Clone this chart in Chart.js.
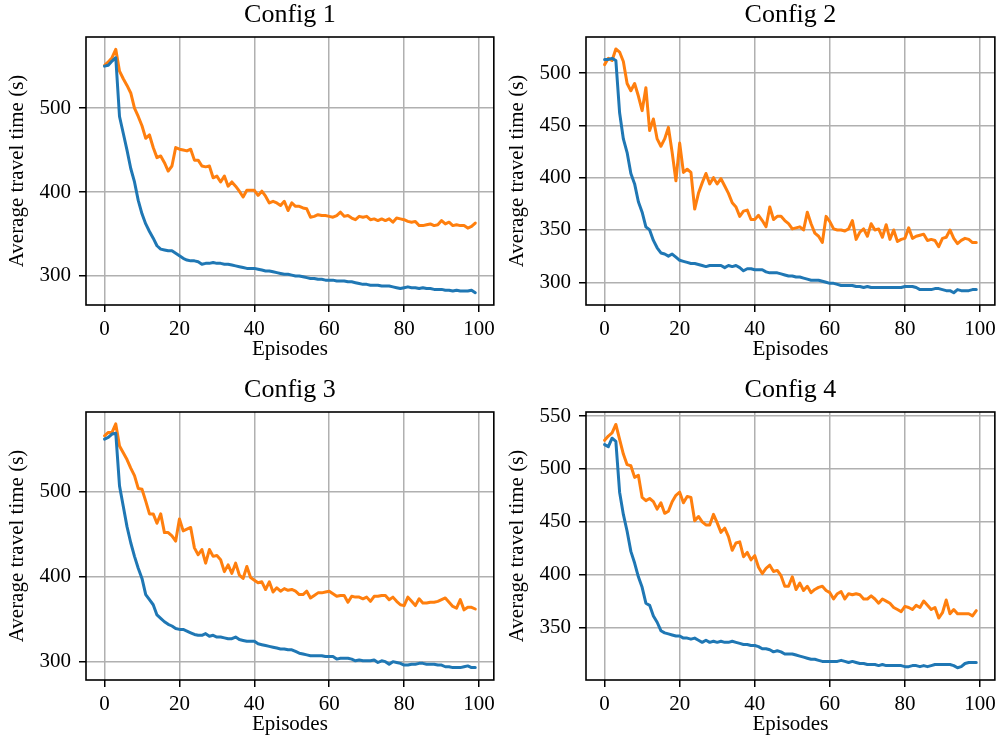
<!DOCTYPE html>
<html>
<head>
<meta charset="utf-8">
<script src="https://cdn.jsdelivr.net/npm/chart.js@4.4.1/dist/chart.umd.min.js"></script>
<style>
html,body{margin:0;padding:0;background:#fff;overflow:hidden;}
#wrap{position:relative;width:1001px;height:740px;overflow:hidden;background:#fff;}
canvas{position:absolute;display:block;}
</style>
</head>
<body>
<div id="wrap">
<canvas id="c1" width="500" height="370" style="left:0;top:0;width:500px;height:370px"></canvas>
<canvas id="c2" width="501" height="370" style="left:500px;top:0;width:501px;height:370px"></canvas>
<canvas id="c3" width="500" height="365" style="left:0;top:375px;width:500px;height:365px"></canvas>
<canvas id="c4" width="501" height="365" style="left:500px;top:375px;width:501px;height:365px"></canvas>
</div>
<script>
// ---- data ----
const episodes = Array.from({length: 100}, (_, i) => i);
const xTicks = [0, 20, 40, 60, 80, 100];

const titles = ["Config 1", "Config 2", "Config 3", "Config 4"];
const xLabel = "Episodes";
const yLabel = "Average travel time (s)";

const config1Blue = [550,551,556,560,490,470,450,428,412,390,
374,362,353,345,336,332,331,330,330,327,
324,321,319,318,318,317,314,315,315,316,
315,315,314,314,313,312,311,310,309,309,
309,308,307,306,306,305,304,303,302,302,
301,300,300,299,298,297,297,296,296,295,
295,295,294,294,294,293,293,292,291,290,
290,289,289,289,288,288,288,287,286,285,
286,287,286,286,285,286,285,285,284,284,
284,283,283,282,283,282,282,282,283,280];
const config1Orange = [551,555,560,570,544,535,527,518,500,490,
479,464,468,453,441,443,435,425,431,453,
451,450,449,451,438,438,431,430,431,417,
419,412,419,407,412,407,401,394,402,402,
402,396,401,395,387,389,387,384,389,378,
387,383,383,381,380,370,371,373,372,372,
371,370,372,376,371,372,369,367,371,370,
371,367,368,366,368,366,368,364,369,368,
367,365,364,365,360,360,361,362,360,361,
366,362,364,360,361,360,360,357,359,363];

const config2Blue = [513,513,514,512,462,437,424,404,394,377,
367,353,350,340,333,328,327,325,327,324,
321,320,319,318,318,317,316,315,316,316,
316,316,314,316,315,316,314,311,313,313,
312,312,312,310,309,309,309,308,307,306,
306,305,305,304,303,302,302,302,301,300,
299,299,298,297,297,297,297,296,296,295,
296,295,295,295,295,295,295,295,295,295,
296,296,296,295,293,293,293,293,294,294,
293,292,292,290,293,292,292,292,293,293];
const config2Orange = [508,514,512,523,520,511,490,483,490,478,
464,486,445,456,437,430,437,448,424,397,
433,405,408,405,370,385,395,404,394,400,
394,399,392,385,376,372,363,368,369,360,
360,364,359,353,372,360,363,363,359,356,
351,352,353,350,367,356,347,344,338,363,
358,351,350,350,349,351,359,341,348,351,
344,356,350,351,343,355,341,350,339,341,
342,352,342,344,345,346,340,341,340,334,
342,343,350,342,337,340,342,341,338,338];

const config3Blue = [562,564,568,569,507,483,459,440,424,410,
398,379,373,367,355,351,347,344,342,339,
338,338,336,334,332,331,331,333,330,331,
329,329,328,327,327,329,326,325,324,324,
324,321,320,319,318,317,316,315,315,314,
314,312,310,309,308,307,307,307,307,306,
306,306,303,304,304,304,303,301,302,301,
301,301,302,299,301,300,297,300,299,298,
296,296,297,297,298,298,297,297,297,296,
296,294,294,293,293,293,294,295,293,293];
const config3Orange = [566,570,570,580,554,546,538,528,519,504,
503,489,474,474,463,474,452,452,448,442,
468,454,456,458,434,426,432,416,432,424,
425,420,406,414,404,416,402,398,412,399,
396,393,394,385,394,382,387,383,386,384,
385,383,379,379,383,375,378,381,381,382,
383,380,377,378,378,370,377,376,376,374,
376,371,377,377,378,378,373,376,371,367,
366,376,371,366,374,369,369,370,370,371,
373,375,370,365,363,373,361,364,364,362];

const config4Blue = [523,521,529,526,478,457,441,422,411,398,
388,373,371,361,355,347,345,344,343,342,
342,340,340,339,340,338,336,338,336,337,
336,337,336,336,337,336,335,334,334,333,
333,332,330,330,329,327,328,327,325,325,
325,324,323,322,321,320,320,319,318,318,
318,318,318,319,318,317,318,317,316,316,
315,315,315,314,315,314,314,314,314,314,
313,313,314,314,313,314,313,314,315,315,
315,315,315,314,312,313,316,317,317,317];
const config4Orange = [527,531,534,542,528,514,504,503,492,494,
473,470,472,469,462,468,458,460,469,475,
478,468,474,473,451,455,450,447,447,457,
449,440,444,436,423,430,431,417,421,414,
418,407,401,406,409,403,404,399,389,389,
398,386,392,385,389,383,386,388,389,385,
383,377,382,384,377,382,381,382,381,377,
377,380,377,373,377,375,373,369,367,365,
370,369,367,371,369,375,371,367,369,359,
364,376,363,367,363,363,363,363,361,366];

const yTicks1 = [300, 400, 500];
const yTicks2 = [300, 350, 400, 450, 500];
const yTicks3 = [300, 400, 500];
const yTicks4 = [350, 400, 450, 500, 550];

const yRange1 = [265.4, 584.7];
const yRange2 = [278.3, 534.4];
const yRange3 = [278.4, 594.0];
const yRange4 = [300.4, 553.8];

// ---- styling / chart construction ----
const FONT = "'Liberation Serif', 'Times New Roman', 'DejaVu Serif', serif";
Chart.defaults.font.family = FONT;
Chart.defaults.color = '#000';

const framePlugin = {
  id: 'frame',
  afterDatasetsDraw(chart) {
    const a = chart.chartArea, ctx = chart.ctx;
    ctx.save();
    ctx.strokeStyle = '#000';
    ctx.lineWidth = 1.6;
    ctx.strokeRect(a.left, a.top, a.right - a.left, a.bottom - a.top);
    ctx.restore();
  }
};

function pts(vals) { return episodes.map((e, i) => ({x: e, y: vals[i]})); }

function makeChart(id, title, blue, orange, yRange, yTicks, canvasW, canvasH) {
  const plotBottom = 305;
  const xAxisH = canvasH - plotBottom;
  const labelCenter = 349;
  const xTitlePad = (canvasH - labelCenter) - 12.6;
  const gridOpts = {color: '#b0b0b0', lineWidth: 1.5, tickLength: 7, tickColor: '#000', tickWidth: 1.5, drawTicks: true};
  return new Chart(document.getElementById(id), {
    type: 'line',
    data: {
      datasets: [
        {data: pts(blue), borderColor: '#1f77b4', borderWidth: 3, pointRadius: 0, tension: 0, fill: false, borderJoinStyle: 'round', borderCapStyle: 'round'},
        {data: pts(orange), borderColor: '#ff7f0e', borderWidth: 3, pointRadius: 0, tension: 0, fill: false, borderJoinStyle: 'round', borderCapStyle: 'round'}
      ]
    },
    options: {
      responsive: false,
      animation: false,
      events: [],
      layout: {padding: {left: 0, right: canvasW - 495, top: 0, bottom: 0}},
      plugins: {
        legend: {display: false},
        tooltip: {enabled: false},
        title: {display: true, fullSize: false, text: title, color: '#000', font: {size: 26, weight: 'normal', family: FONT}, padding: {top: 0, bottom: 5.8}}
      },
      scales: {
        x: {
          type: 'linear', min: -4.95, max: 103.95,
          afterBuildTicks: s => { s.ticks = xTicks.map(v => ({value: v})); },
          afterFit: s => { s.height = xAxisH; },
          ticks: {font: {size: 21}, color: '#000', padding: 5, maxRotation: 0, autoSkip: false},
          grid: gridOpts,
          border: {display: false},
          title: {display: true, text: xLabel, color: '#000', font: {size: 21}, padding: {top: 0, bottom: xTitlePad}}
        },
        y: {
          type: 'linear', min: yRange[0], max: yRange[1],
          afterBuildTicks: s => { s.ticks = yTicks.map(v => ({value: v})); },
          afterFit: s => { s.width = 86; },
          ticks: {font: {size: 21}, color: '#000', padding: 8, autoSkip: false},
          grid: gridOpts,
          border: {display: false},
          title: {display: true, text: yLabel, color: '#000', font: {size: 21}, padding: {top: 5, bottom: 0}}
        }
      }
    },
    plugins: [framePlugin]
  });
}

makeChart('c1', titles[0], config1Blue, config1Orange, yRange1, yTicks1, 500, 370);
makeChart('c2', titles[1], config2Blue, config2Orange, yRange2, yTicks2, 501, 370);
makeChart('c3', titles[2], config3Blue, config3Orange, yRange3, yTicks3, 500, 365);
makeChart('c4', titles[3], config4Blue, config4Orange, yRange4, yTicks4, 501, 365);
</script>
</body>
</html>
